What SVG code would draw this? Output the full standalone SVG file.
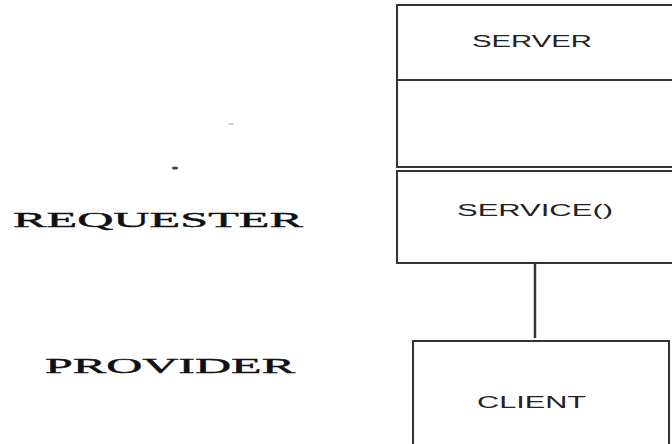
<svg xmlns="http://www.w3.org/2000/svg" width="672" height="444" viewBox="0 0 672 444">
<style>
.box{fill:#fff;stroke:#333;stroke-width:2}
.lbl{font-family:"Liberation Sans",Arial,sans-serif;font-size:16px;fill:#222}
.side{font-family:"Liberation Serif","Times New Roman",serif;font-size:22px;fill:#111;stroke:#111;stroke-width:0.4}
.conn{stroke:#333;stroke-width:2.5;fill:none}
</style>
<rect width="672" height="444" fill="#fff"/>
<g id="requester"><text class="side" x="13" y="227" textLength="290" lengthAdjust="spacingAndGlyphs">REQUESTER</text></g>
<g id="provider"><text class="side" x="45" y="373" textLength="250" lengthAdjust="spacingAndGlyphs">PROVIDER</text></g>
<g id="marks">
<ellipse cx="175" cy="168" rx="3" ry="1.5" fill="#444"/>
<ellipse cx="231" cy="124" rx="3" ry="1" fill="#ccc"/>
</g>
<g id="server">
<rect class="box" x="397" y="5" width="285" height="162"/>
<line class="box" x1="397" y1="80" x2="672" y2="80"/>
<text class="lbl" x="472" y="47" textLength="120" lengthAdjust="spacingAndGlyphs">SERVER</text>
</g>
<g id="service">
<rect class="box" x="397" y="171" width="285" height="92"/>
<text class="lbl" x="457" y="216" textLength="156" lengthAdjust="spacingAndGlyphs">SERVICE()</text>
</g>
<g id="connectors">
<line class="conn" x1="535" y1="263" x2="535" y2="338"/>
</g>
<g id="client">
<rect class="box" x="413" y="341" width="256" height="120"/>
<text class="lbl" x="477" y="408" textLength="109" lengthAdjust="spacingAndGlyphs">CLIENT</text>
</g>
</svg>
